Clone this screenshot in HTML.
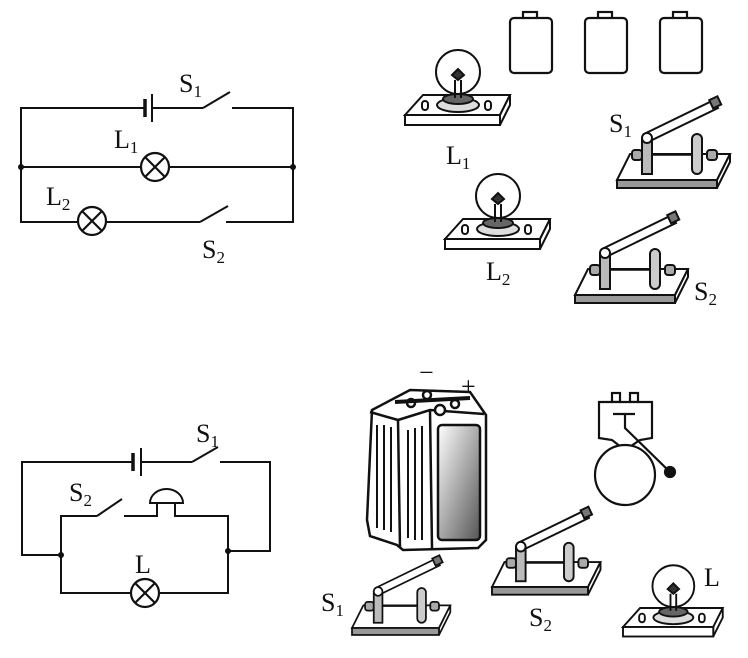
<!DOCTYPE html>
<html><head><meta charset="utf-8"><style>
html,body{margin:0;padding:0;background:#fff}
svg{display:block}
text{font-family:"Liberation Serif",serif;fill:#111}
</style></head><body>
<svg width="748" height="658" viewBox="0 0 748 658" xmlns="http://www.w3.org/2000/svg">
<defs>
<linearGradient id="gr" x1="0" y1="0" x2="1" y2="1"><stop offset="0" stop-color="#fff"/><stop offset="1" stop-color="#555"/></linearGradient>
<g id="lamp">
 <g stroke="#111" stroke-width="2.2" fill="none">
  <circle cx="12" cy="12" r="14"/>
  <line x1="2" y1="2" x2="22" y2="22"/><line x1="22" y1="2" x2="2" y2="22"/>
 </g>
</g>
<g id="bulb" stroke="#111" stroke-width="2" fill="#fff">
 <polygon points="0,0 18,-20 105,-20 95,0"/>
 <polygon points="95,0 105,-20 105,-10 95,10"/>
 <rect x="0" y="0" width="95" height="10"/>
 <rect x="17" y="-14" width="6" height="9" rx="3"/>
 <rect x="80" y="-14" width="6" height="9" rx="3"/>
 <circle cx="53" cy="-43" r="22"/>
 <ellipse cx="53" cy="-10" rx="21" ry="7" fill="#ddd"/>
 <ellipse cx="53" cy="-16" rx="15" ry="5" fill="#666"/>
 <path d="M50,-17 L50,-35 M56,-17 L56,-35" />
 <path d="M47,-40 L53,-46 L59,-40 L53,-35 Z" fill="#333"/>
</g>
<g id="sw" stroke="#111" stroke-width="2" fill="#fff">
 <polygon points="0,0 13,-26 113,-26 100,0"/>
 <polygon points="100,0 113,-26 113,-18 100,8"/>
 <rect x="0" y="0" width="100" height="8" fill="#999"/>
 <line x1="31" y1="-25" x2="80" y2="-25" stroke-width="1.5"/>
 <rect x="15" y="-30" width="10" height="10" rx="3" fill="#aaa"/>
 <rect x="90" y="-30" width="10" height="10" rx="3" fill="#aaa"/>
 <rect x="25" y="-42" width="10" height="36" fill="#bbb"/>
 <rect x="75" y="-46" width="10" height="40" rx="5" fill="#ccc"/>
 <polygon points="27,-46 97,-80 101,-72 31,-38"/>
 <rect x="94" y="-82" width="9" height="9" fill="#777" transform="rotate(-25 98 -77)"/>
 <circle cx="30" cy="-42" r="5"/>
</g>
<g id="cell" stroke="#111" stroke-width="2.2" fill="#fff">
 <rect x="13" y="0" width="14" height="7"/>
 <rect x="0" y="6" width="42" height="55" rx="4"/>
</g>
</defs>

<!-- Circuit 1 -->
<g stroke="#111" stroke-width="2" fill="none">
 <polyline points="145,108 21,108 21,222 77,222"/>
 <line x1="152" y1="108" x2="203" y2="108"/>
 <line x1="203" y1="108" x2="230" y2="92"/>
 <polyline points="232,108 293,108 293,222 226,222"/>
 <line x1="200" y1="222" x2="228" y2="206"/>
 <line x1="107" y1="222" x2="200" y2="222"/>
 <line x1="21" y1="167" x2="140" y2="167"/>
 <line x1="170" y1="167" x2="293" y2="167"/>
 <line x1="145" y1="99" x2="145" y2="117" stroke-width="3.5"/>
 <line x1="152" y1="94" x2="152" y2="122"/>
</g>
<circle cx="21" cy="167" r="3" fill="#111"/><circle cx="293" cy="167" r="3" fill="#111"/>
<use href="#lamp" x="143" y="155"/>
<use href="#lamp" x="80" y="209"/>
<text x="179" y="92" font-size="26">S<tspan font-size="17" dy="5">1</tspan></text>
<text x="114" y="148" font-size="26">L<tspan font-size="17" dy="5">1</tspan></text>
<text x="46" y="205" font-size="26">L<tspan font-size="17" dy="5">2</tspan></text>
<text x="202" y="258" font-size="26">S<tspan font-size="17" dy="5">2</tspan></text>

<!-- Circuit 2 -->
<g stroke="#111" stroke-width="2" fill="none">
 <polyline points="133,462 22,462 22,555 61,555"/>
 <line x1="141" y1="462" x2="192" y2="462"/>
 <line x1="192" y1="462" x2="218" y2="447"/>
 <polyline points="220,462 270,462 270,551 228,551"/>
 <polyline points="97,516 61,516 61,593 130,593"/>
 <polyline points="160,593 228,593 228,516 175,516 175,503"/>
 <line x1="97" y1="516" x2="122" y2="499"/>
 <polyline points="124,516 157,516 157,503"/>
 <path d="M150,503 L183,503 A16.5,14 0 0 0 150,503 Z" fill="#fff"/>
 <line x1="133" y1="453" x2="133" y2="471" stroke-width="3.5"/>
 <line x1="141" y1="448" x2="141" y2="476"/>
</g>
<circle cx="61" cy="555" r="3" fill="#111"/><circle cx="228" cy="551" r="3" fill="#111"/>
<use href="#lamp" x="133" y="581"/>
<text x="196" y="442" font-size="26">S<tspan font-size="17" dy="5">1</tspan></text>
<text x="69" y="501" font-size="26">S<tspan font-size="17" dy="5">2</tspan></text>
<text x="135" y="573" font-size="26">L</text>

<!-- Top right components -->
<use href="#cell" x="510" y="12"/>
<use href="#cell" x="585" y="12"/>
<use href="#cell" x="660" y="12"/>
<use href="#bulb" x="405" y="115"/>
<use href="#bulb" x="445" y="239"/>
<use href="#sw" x="617" y="180"/>
<use href="#sw" x="575" y="295"/>
<text x="446" y="164" font-size="26">L<tspan font-size="17" dy="5">1</tspan></text>
<text x="486" y="280" font-size="26">L<tspan font-size="17" dy="5">2</tspan></text>
<text x="609" y="132" font-size="26">S<tspan font-size="17" dy="5">1</tspan></text>
<text x="694" y="300" font-size="26">S<tspan font-size="17" dy="5">2</tspan></text>

<!-- Bottom right: battery -->
<g stroke="#111" stroke-width="2.5">
 <path d="M372,410 L410,390 L470,392 L486,415 L486,540 L478,548 L403,550 L397,545 L370,536 L367,520 Z" fill="#fff"/>
 <path d="M370,412 L398,420 L400,548" fill="none"/>
 <path d="M398,420 L430,410 L484,414" fill="none"/>
 <path d="M430,410 L432,548" fill="none"/>
 <rect x="438" y="425" width="42" height="115" rx="4" fill="url(#gr)"/>
 <g stroke-width="2"><line x1="377" y1="425" x2="377" y2="528"/><line x1="384" y1="425" x2="384" y2="530"/><line x1="391" y1="427" x2="391" y2="532"/>
 <line x1="408" y1="430" x2="408" y2="538"/><line x1="415" y1="428" x2="415" y2="540"/><line x1="422" y1="426" x2="422" y2="540"/></g>
 <circle cx="411" cy="403" r="4" fill="#fff"/><circle cx="427" cy="395" r="4" fill="#fff"/>
 <circle cx="440" cy="410" r="5" fill="#fff"/><circle cx="455" cy="404" r="4" fill="#fff"/>
 <path d="M395,402 L470,398" stroke-width="4" fill="none"/>
</g>
<text x="419" y="381" font-size="26">−</text>
<text x="461" y="395" font-size="26">+</text>
<!-- bell -->
<g stroke="#111" stroke-width="2.2" fill="#fff">
 <rect x="612" y="393" width="8" height="9"/><rect x="630" y="393" width="8" height="9"/>
 <path d="M599,402 L652,402 L652,438 L640,440 L625,450 L612,440 L599,438 Z"/>
 <circle cx="625" cy="475" r="30"/>
 <line x1="613" y1="414" x2="635" y2="414"/>
 <polyline points="625,414 625,428 670,472" fill="none"/>
 <circle cx="670" cy="472" r="5" fill="#111"/>
</g>
<use href="#sw" transform="translate(352,628) scale(0.87)"/>
<use href="#sw" transform="translate(492,587) scale(0.96)"/>
<use href="#bulb" transform="translate(623,627) scale(0.95)"/>
<text x="321" y="611" font-size="26">S<tspan font-size="17" dy="5">1</tspan></text>
<text x="529" y="626" font-size="26">S<tspan font-size="17" dy="5">2</tspan></text>
<text x="704" y="586" font-size="26">L</text>
</svg>
</body></html>
